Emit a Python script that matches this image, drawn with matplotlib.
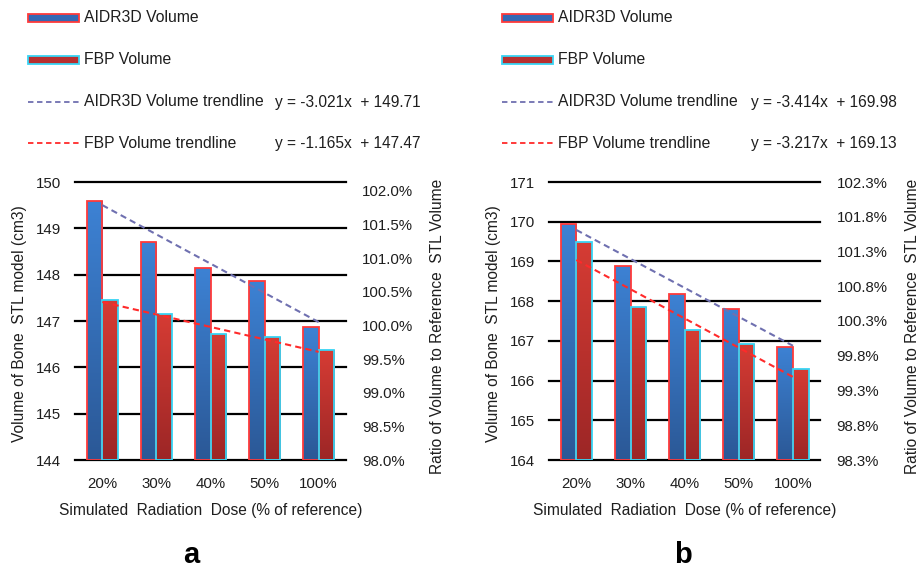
import numpy as np
import matplotlib
matplotlib.use("Agg")
import matplotlib.pyplot as plt
from matplotlib.patches import Rectangle
from matplotlib.lines import Line2D
from matplotlib.colors import LinearSegmentedColormap

plt.rcParams['font.family'] = ['Liberation Sans', 'DejaVu Sans']

# -----------------------------
# data
# -----------------------------
doses = ['20%', '30%', '40%', '50%', '100%']

aidr_a = [149.60, 148.71, 148.15, 147.86, 146.87]
fbp_a = [147.46, 147.16, 146.72, 146.65, 146.37]
aidr_b = [169.95, 168.89, 168.18, 167.80, 166.85]
fbp_b = [169.50, 167.84, 167.28, 166.92, 166.28]

eq_a = ['y = -3.021x  + 149.71', 'y = -1.165x  + 147.47']
eq_b = ['y = -3.414x  + 169.98', 'y = -3.217x  + 169.13']

vol_ticks_a = [144, 145, 146, 147, 148, 149, 150]
vol_ticks_b = [164, 165, 166, 167, 168, 169, 170, 171]
ratio_ticks_a = [98.0, 98.5, 99.0, 99.5, 100.0, 100.5, 101.0, 101.5, 102.0]
ratio_ticks_b = [98.3, 98.8, 99.3, 99.8, 100.3, 100.8, 101.3, 101.8, 102.3]
ratio_lim_a = (98.0, 102.13)
ratio_lim_b = (98.3, 102.3)

W, H = 921, 569
TXT = '#1e1e1e'
blue_cmap = LinearSegmentedColormap.from_list('b', ['#2b5896', '#3d82d4'])
red_cmap = LinearSegmentedColormap.from_list('r', ['#9c2626', '#d63c34'])
BLUE_EDGE = '#ff3a3a'
RED_EDGE = '#38d4f4'
BLUE_TREND = '#6f70b0'
RED_TREND = '#ff2a2a'


def px(x, y):
    # pixel coords (top-left origin) -> figure fraction
    return x / W, 1 - y / H


def gradient_bars(ax, xs, heights, base, width, cmap, edge):
    grad = np.linspace(0, 1, 256).reshape(-1, 1)
    for x, h in zip(xs, heights):
        rect = Rectangle((x - width / 2, base), width, h - base,
                         facecolor='none', edgecolor=edge, lw=1.3, zorder=4)
        ax.add_patch(rect)
        im = ax.imshow(grad, cmap=cmap, origin='lower', aspect='auto',
                       extent=(x - width / 2, x + width / 2, base, h), zorder=3)
        im.set_clip_path(rect)


def draw_panel(left_px, right_px, aidr, fbp, vol_ticks, ratio_ticks, ratio_lim, eqs, letter, letter_x, leg_x):
    top_px, bot_px = 182, 460
    l, b = px(left_px, bot_px)
    ax = fig.add_axes([l, b, (right_px - left_px) / W, (bot_px - top_px) / H])
    x = np.arange(1, len(doses) + 1)
    bw = 0.29
    base = vol_ticks[0]

    # horizontal gridlines, not clipped so the top/bottom ones keep full width
    for t in vol_ticks:
        ax.axhline(t, color='black', lw=1.6, zorder=1, clip_on=False)

    gradient_bars(ax, x - bw / 2, aidr, base, bw, blue_cmap, BLUE_EDGE)
    gradient_bars(ax, x + bw / 2, fbp, base, bw, red_cmap, RED_EDGE)

    # linear trendlines between category centres
    for vals, col in [(aidr, BLUE_TREND), (fbp, RED_TREND)]:
        k, c = np.polyfit(x, vals, 1)
        ax.plot([x[0], x[-1]], [k * x[0] + c, k * x[-1] + c], ls=(0, (3, 2)),
                color=col, lw=1.5, zorder=5)

    ax.set_xlim(0.5, len(doses) + 0.5)
    ax.set_ylim(vol_ticks[0], vol_ticks[-1])
    ax.set_yticks(vol_ticks)
    ax.set_xticks(x)
    ax.set_xticklabels(doses)
    for s in ax.spines.values():
        s.set_visible(False)
    ax.tick_params(length=0, labelsize=10.8, colors=TXT)
    ax.tick_params(axis='y', pad=10.5)
    ax.tick_params(axis='x', pad=12)

    ax2 = ax.twinx()
    ax2.set_ylim(*ratio_lim)
    ax2.set_yticks(ratio_ticks)
    ax2.set_yticklabels(['%.1f%%' % t for t in ratio_ticks])
    for s in ax2.spines.values():
        s.set_visible(False)
    ax2.tick_params(length=0, labelsize=10.8, pad=12, colors=TXT)

    cx = (left_px + right_px) / 2
    fig.text(*px(cx, 510), 'Simulated  Radiation  Dose (% of reference)',
             ha='center', va='center', fontsize=11.2, color=TXT)
    fig.text(*px(left_px - 56, 324), 'Volume of Bone  STL model (cm3)', rotation=90,
             ha='center', va='center', fontsize=11.2, color=TXT)
    fig.text(*px(right_px + 92, 326), 'Ratio of Volume to Reference  STL Volume', rotation=90,
             ha='center', va='center', fontsize=11.2, color=TXT)
    fig.text(*px(letter_x, 563), letter, ha='center', va='baseline',
             fontsize=21, fontweight='bold')

    # legend drawn by hand (four rows, equations in a second column)
    rows = [18, 60, 102, 143]
    hx0, hx1 = leg_x, leg_x + 51
    for yy, fc, ec in [(rows[0], '#3468b4', BLUE_EDGE), (rows[1], '#b83030', RED_EDGE)]:
        x0, y0 = px(hx0, yy + 3.5)
        fig.add_artist(Rectangle((x0, y0), 51 / W, 7 / H, transform=fig.transFigure,
                                 facecolor=fc, edgecolor=ec, lw=1.3))
    for yy, col in [(rows[2], BLUE_TREND), (rows[3], RED_TREND)]:
        (xa, ya), (xb, _) = px(hx0, yy), px(hx1, yy)
        fig.add_artist(Line2D([xa, xb], [ya, ya], transform=fig.transFigure,
                              color=col, ls=(0, (3, 2)), lw=1.3))
    labels = ['AIDR3D Volume', 'FBP Volume', 'AIDR3D Volume trendline', 'FBP Volume trendline']
    for yy, t in zip(rows, labels):
        fig.text(*px(hx1 + 5, yy), t, ha='left', va='center', fontsize=11.3, color=TXT)
    eq_x = leg_x + 247 if letter == 'a' else leg_x + 249
    for yy, t in zip(rows[2:], eqs):
        fig.text(*px(eq_x, yy), t, ha='left', va='center', fontsize=11.2, color=TXT)
    return ax


fig = plt.figure(figsize=(W / 100, H / 100), dpi=100)
draw_panel(75.3, 345.7, aidr_a, fbp_a, vol_ticks_a, ratio_ticks_a, ratio_lim_a, eq_a, 'a', 191.7, 28)
draw_panel(549.3, 820.0, aidr_b, fbp_b, vol_ticks_b, ratio_ticks_b, ratio_lim_b, eq_b, 'b', 683, 501.7)

fig.savefig('out.png', dpi=100)
